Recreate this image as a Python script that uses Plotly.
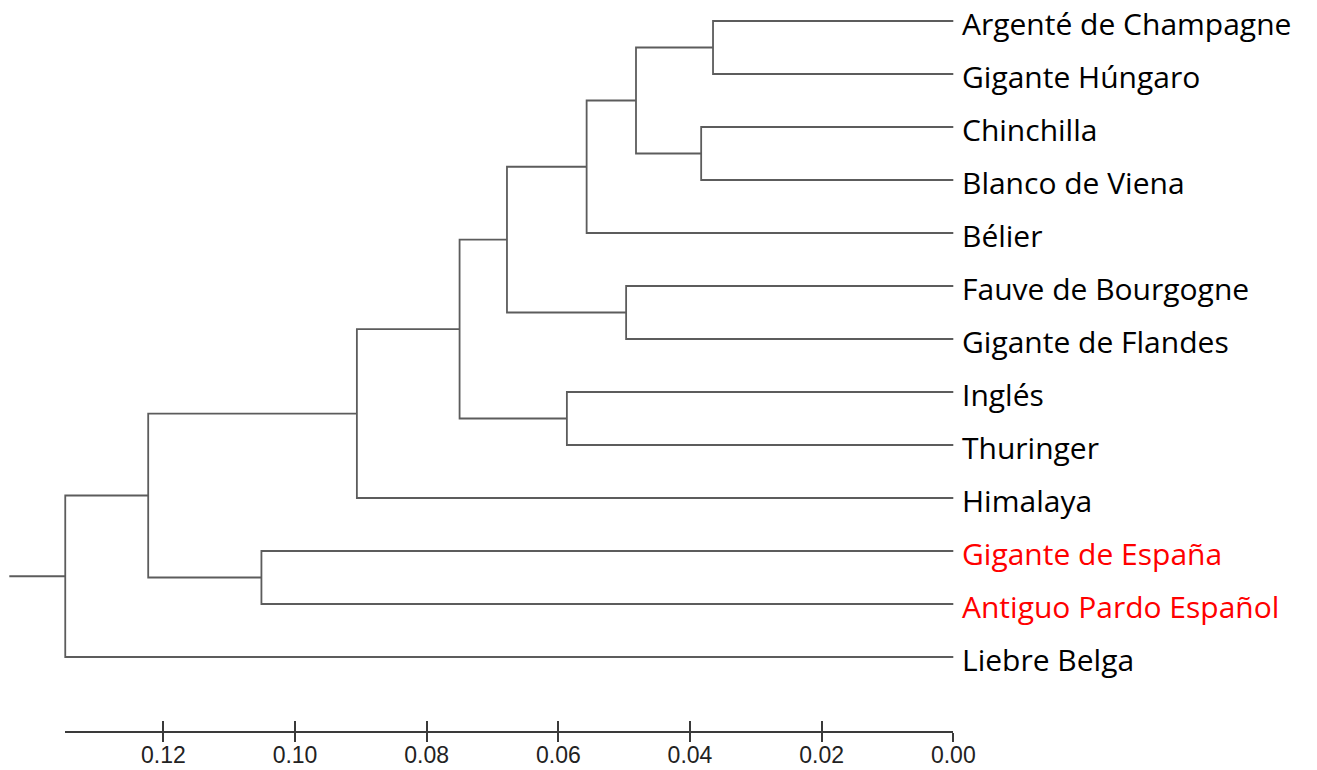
import plotly.graph_objects as go

# ---------------- data ----------------
leaves = ["Argenté de Champagne", "Gigante Húngaro", "Chinchilla", "Blanco de Viena",
          "Bélier", "Fauve de Bourgogne", "Gigante de Flandes", "Inglés", "Thuringer",
          "Himalaya", "Gigante de España", "Antiguo Pardo Español", "Liebre Belga"]
leaf_colors = ["black"] * 10 + ["red", "red", "black"]

# merges: (child_a, child_b, height); leaves are 0..12, new nodes numbered from 13
merge_a = [0, 2, 13, 15, 5, 16, 7, 18, 20, 10, 21, 23]
merge_b = [1, 3, 14, 4, 6, 17, 8, 19, 9, 11, 22, 12]
merge_h = [0.0365, 0.0383, 0.0482, 0.0557, 0.0497, 0.0678, 0.0587,
           0.0750, 0.0906, 0.1051, 0.1223, 0.1349]
root_stub = 0.0085

tick_vals = [0.12, 0.10, 0.08, 0.06, 0.04, 0.02, 0.00]
tick_text = ["0.12", "0.10", "0.08", "0.06", "0.04", "0.02", "0.00"]

# ---------------- layout geometry ----------------
W, H = 1317, 770
PX = 6583.0       # pixels per unit distance
X0 = 953.3        # pixel of distance 0
XR = 966.0        # right edge of main plot area
Y_FIRST = 21.0    # pixel y of first leaf
Y_STEP = 53.0     # pixel spacing between leaves
AXIS_Y = 732.0

# ---------------- build dendrogram segments ----------------
n = len(leaves)
node_y = {i: float(i) for i in range(n)}
node_h = {i: 0.0 for i in range(n)}
xs, ys = [], []
for k, (a, b, h) in enumerate(zip(merge_a, merge_b, merge_h)):
    idx = n + k
    ya, yb = node_y[a], node_y[b]
    xs += [node_h[a], h, h, node_h[b], None]
    ys += [ya, ya, yb, yb, None]
    node_y[idx] = (ya + yb) / 2
    node_h[idx] = h
root = n + len(merge_h) - 1
root_h = node_h[root]
xs += [root_h, root_h + root_stub, None]
ys += [node_y[root], node_y[root], None]

fig = go.Figure()
fig.add_trace(go.Scatter(x=xs, y=ys, mode="lines",
                         line=dict(color="#5c5c5c", width=1.8),
                         hoverinfo="skip", showlegend=False))
fig.add_trace(go.Scatter(x=[root_h, 0], y=[None, None], xaxis="x2", yaxis="y",
                         mode="markers", showlegend=False, hoverinfo="skip"))
fig.add_trace(go.Scatter(x=[root_h, 0], y=[None, None], xaxis="x3", yaxis="y",
                         mode="markers", showlegend=False, hoverinfo="skip"))

for i, (name, col) in enumerate(zip(leaves, leaf_colors)):
    fig.add_annotation(x=0, y=i, xref="x", yref="y", text=name, showarrow=False,
                       xanchor="left", yanchor="middle", xshift=7, yshift=-2,
                       font=dict(family="'Open Sans', Lato, sans-serif",
                                 size=30, color=col))

r0 = -Y_FIRST / Y_STEP
r1 = r0 + H / Y_STEP
pos = 1 - AXIS_Y / H
x2_left = X0 - root_h * PX

common_scale = dict(range=[root_h, 0], domain=[x2_left / W, X0 / W], anchor="free",
                    position=pos, showgrid=False, zeroline=False, showline=True,
                    linecolor="#3a3a3a", linewidth=1.5, tickvals=tick_vals,
                    tickcolor="#3a3a3a", tickwidth=1.5, automargin=False)

fig.update_layout(
    template="none",
    width=W, height=H, autosize=False,
    margin=dict(l=0, r=0, t=0, b=0, pad=0),
    paper_bgcolor="white", plot_bgcolor="rgba(0,0,0,0)",
    xaxis=dict(range=[X0 / PX, -(XR - X0) / PX], domain=[0, XR / W],
               visible=False, showgrid=False, zeroline=False, automargin=False),
    yaxis=dict(range=[r1, r0], domain=[0, 1], visible=False,
               showgrid=False, zeroline=False, automargin=False),
    # lower half of the ticks
    xaxis2=dict(**common_scale, ticks="outside", ticklen=9, showticklabels=False),
    # upper half of the ticks, plus the tick labels
    xaxis3=dict(**common_scale, ticks="inside", ticklen=10, showticklabels=True,
                ticktext=tick_text, ticklabelposition="outside",
                ticklabelstandoff=3,
                tickfont=dict(family="'Liberation Sans', Arial, sans-serif",
                              size=23, color="#222")),
    showlegend=False,
)

fig.write_html("out.html")
